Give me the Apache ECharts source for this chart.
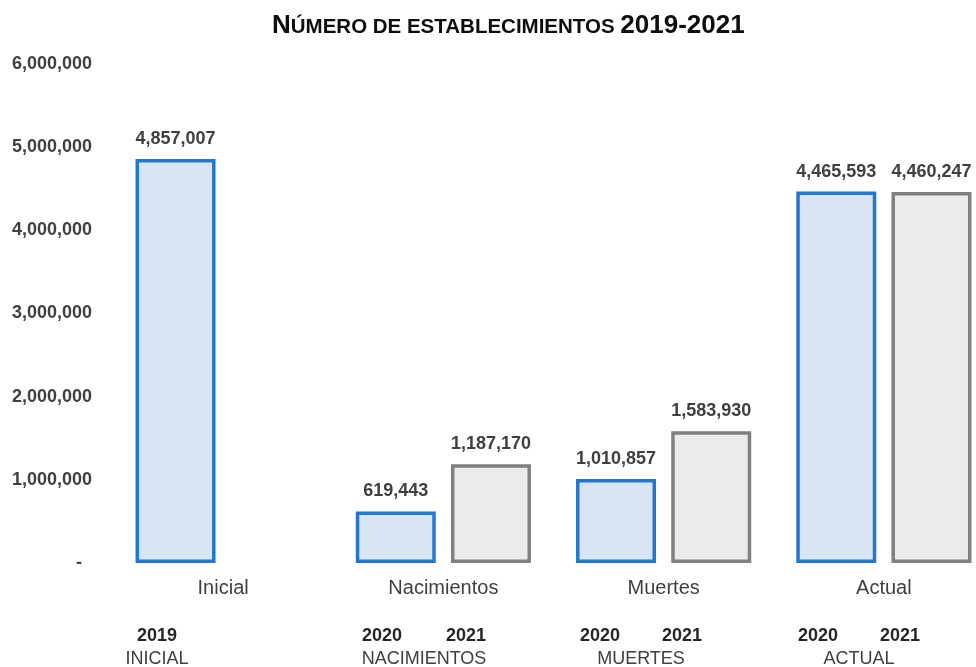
<!DOCTYPE html>
<html>
<head>
<meta charset="utf-8">
<script src="https://cdn.jsdelivr.net/npm/echarts@6/dist/echarts.min.js"></script>
<style>
  html, body { margin: 0; padding: 0; background: #fff; overflow: hidden; }
  /* el grafico original sale cortado por la derecha */
  #chart { width: 1000px; height: 667px; }
</style>
</head>
<body>
<div id="chart"></div>
<script>
// datos
var categorias = ['Inicial', 'Nacimientos', 'Muertes', 'Actual'];
var serie2020 = [4857007, 619443, 1010857, 4465593];   // 2019 en "Inicial"
var serie2021 = [null, 1187170, 1583930, 4460247];
var yTicks = [0, 1000000, 2000000, 3000000, 4000000, 5000000, 6000000];

// tabla de abajo
var tablaAnios = [['2019', 157], ['2020', 382], ['2021', 466], ['2020', 600], ['2021', 682], ['2020', 818], ['2021', 900]];
var tablaNombres = [['INICIAL', 157], ['NACIMIENTOS', 424], ['MUERTES', 641], ['ACTUAL', 859]];

var fmt = function (v) {
    return v == 0 ? '-  ' : echarts.format.addCommas(v);
};

var chart = echarts.init(document.getElementById('chart'));

var graficos = [];
tablaAnios.forEach(function (a) {
    graficos.push({
        type: 'text', x: a[1], y: 636,
        style: { text: a[0], font: 'bold 18px "Liberation Sans", Arial', fill: '#262626', align: 'center', verticalAlign: 'middle' }
    });
});
tablaNombres.forEach(function (a) {
    graficos.push({
        type: 'text', x: a[1], y: 659,
        style: { text: a[0], font: '18px "Liberation Sans", Arial', fill: '#404040', align: 'center', verticalAlign: 'middle' }
    });
});

var option = {
    animation: false,
    textStyle: { fontFamily: '"Liberation Sans", Arial, sans-serif' },
    title: {
        text: '{b|N}{s|ÚMERO DE ESTABLECIMIENTOS }{b|2019-2021}',
        left: 267,
        top: 8,
        textStyle: {
            rich: {
                b: { fontSize: 26, fontWeight: 'bold', color: '#0d0d0d' },
                s: { fontSize: 20.5, fontWeight: 'bold', color: '#0d0d0d', padding: [3, 0, 0, 0] }
            }
        }
    },
    grid: { left: 113, right: 6, top: 64, bottom: 104 },
    xAxis: {
        type: 'category',
        data: categorias,
        axisLine: { show: false },
        axisTick: { show: false },
        axisLabel: { fontSize: 20, color: '#404040', margin: 15 }
    },
    yAxis: {
        type: 'value',
        min: 0,
        max: 6000000,
        interval: 1000000,
        splitLine: { show: false },
        axisLine: { show: false },
        axisTick: { show: false },
        axisLabel: {
            fontSize: 18, fontWeight: 'bold', color: '#404040', margin: 21,
            padding: [4, 0, 0, 0],
            formatter: function (v) { return yTicks.indexOf(v) >= 0 ? fmt(v) : ''; }
        }
    },
    series: [
        {
            name: '2020',
            type: 'bar',
            data: serie2020,
            barWidth: 80,
            barGap: '19%',
            itemStyle: { color: '#dae5f3', borderColor: '#2477d1', borderWidth: 3.5 },
            label: {
                show: true, position: 'top', distance: 11,
                fontSize: 18, fontWeight: 'bold', color: '#404040',
                formatter: function (p) { return fmt(p.value); }
            }
        },
        {
            name: '2021',
            type: 'bar',
            data: serie2021,
            barWidth: 80,
            itemStyle: { color: '#ebebeb', borderColor: '#808080', borderWidth: 3.5 },
            label: {
                show: true, position: 'top', distance: 11,
                fontSize: 18, fontWeight: 'bold', color: '#404040',
                formatter: function (p) { return fmt(p.value); }
            }
        }
    ],
    graphic: graficos
};

chart.setOption(option);
</script>
</body>
</html>
